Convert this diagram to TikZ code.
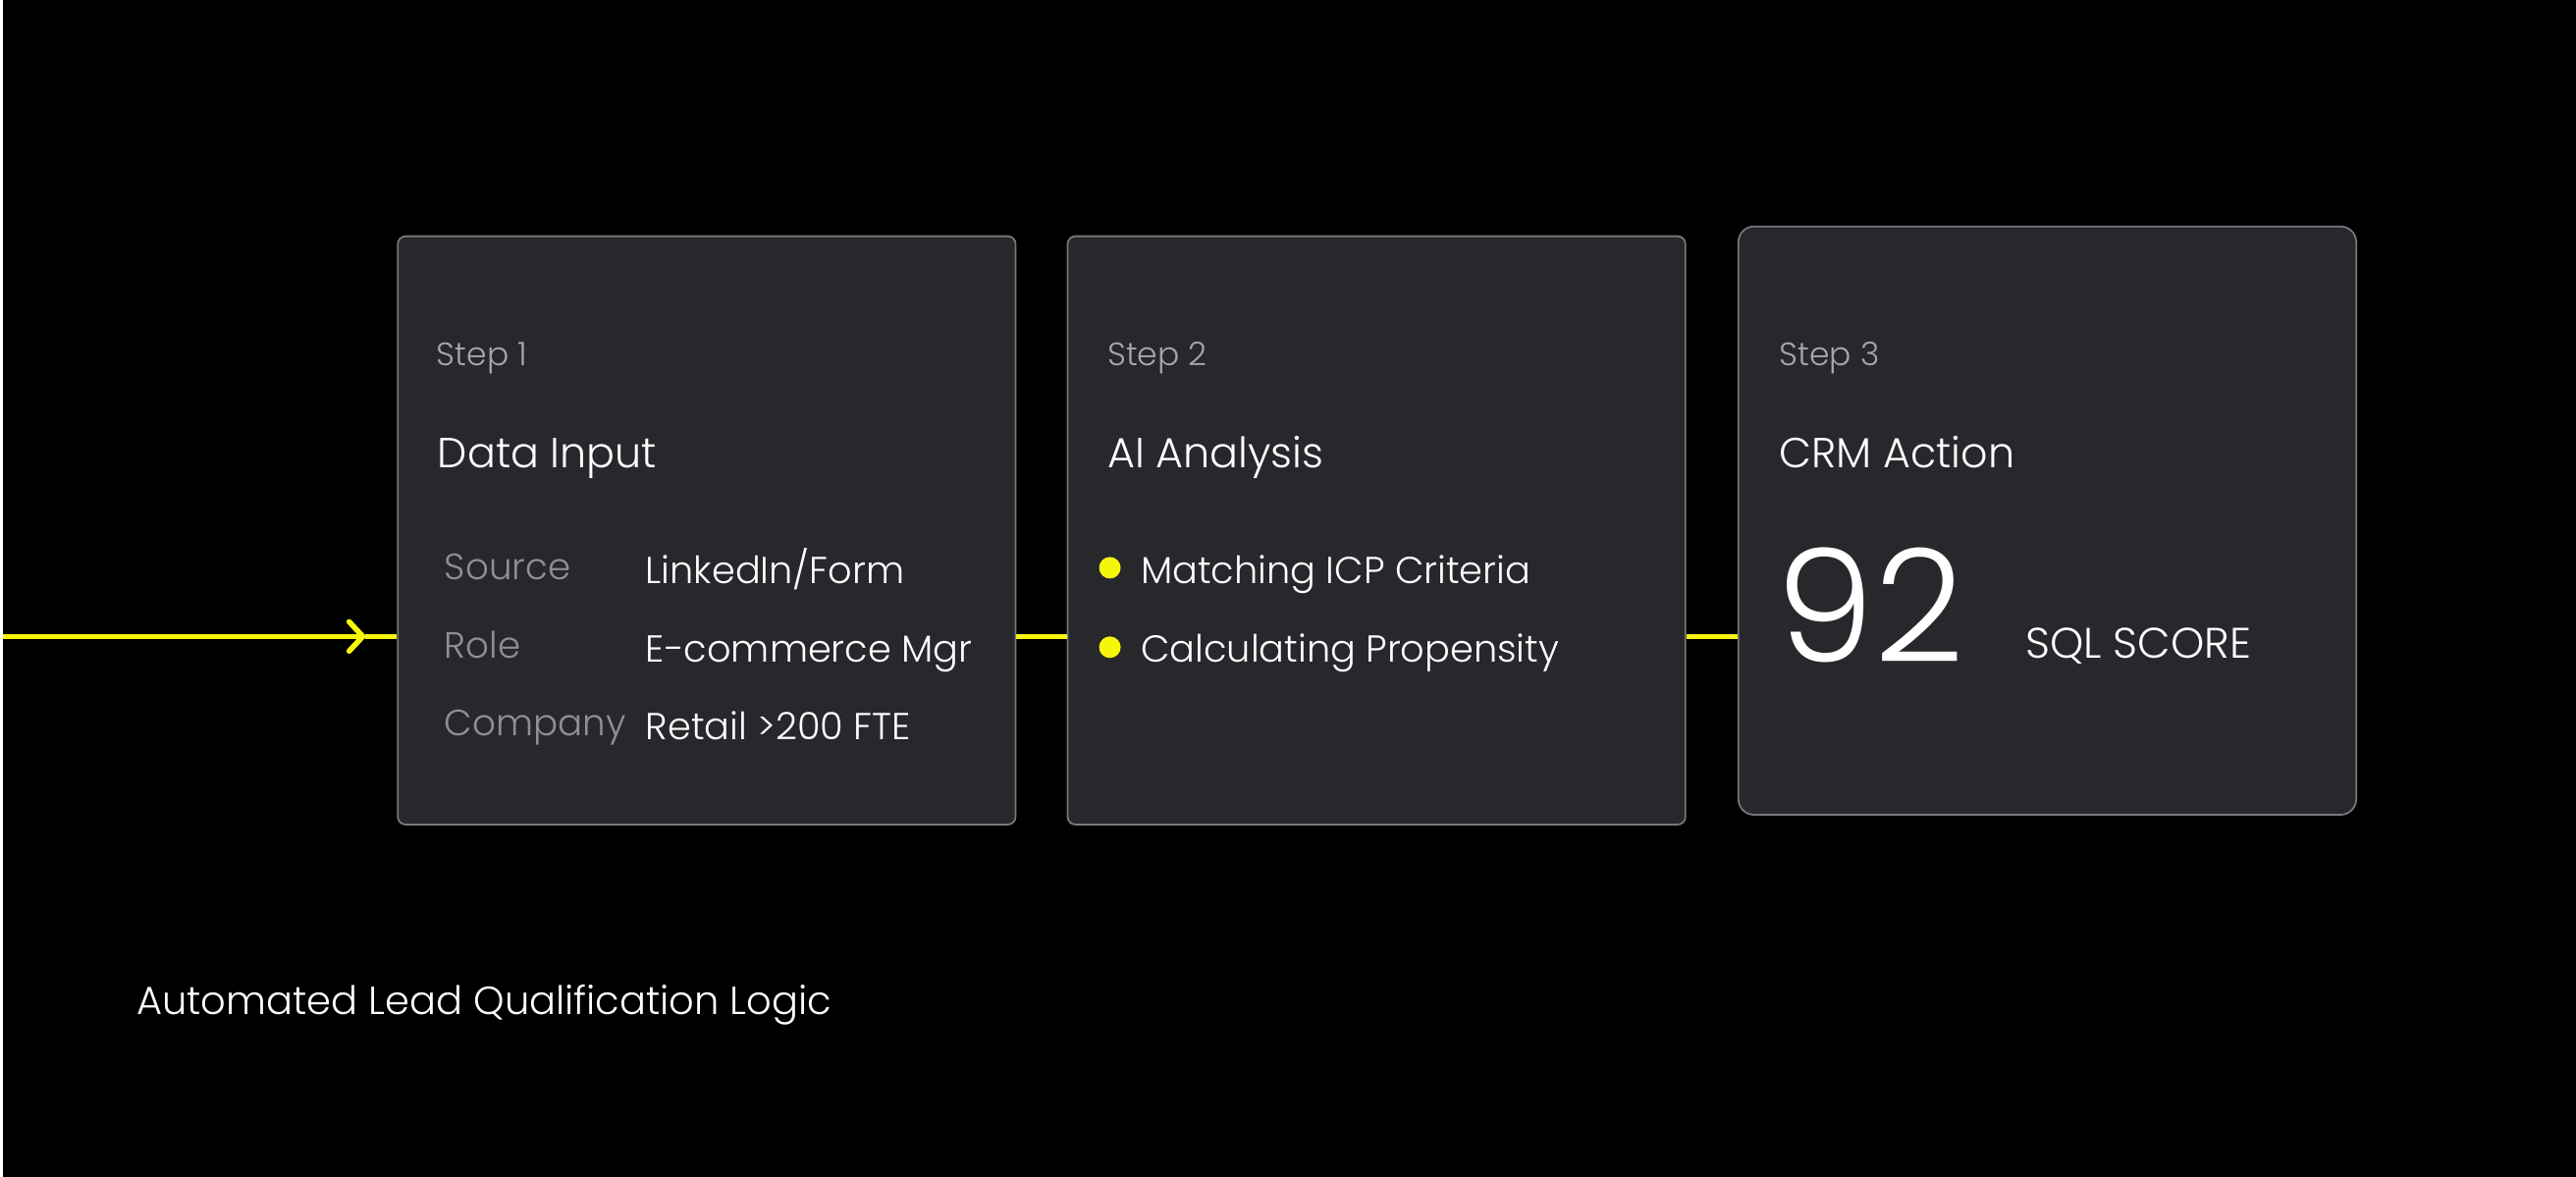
\documentclass[tikz,border=0pt]{standalone}
\usepackage{fontspec}
\setmainfont{Poppins Light}
\usetikzlibrary{arrows.meta}

\definecolor{bg}{HTML}{000000}
\definecolor{card}{HTML}{27282C}
\definecolor{cardline}{HTML}{77787C}
\definecolor{hilite}{HTML}{F6F60A}
\definecolor{steptext}{HTML}{A6A7AA}
\definecolor{keytext}{HTML}{8F9094}

\begin{document}
\begin{tikzpicture}[x=0.1mm,y=-0.1mm,
  card/.style={draw=cardline, fill=card, line width=0.5pt, rounded corners=0.8mm,
    anchor=north west, minimum width=63mm, minimum height=60mm, inner sep=0pt},
  flow/.style={draw=hilite, line width=0.55mm},
  txt/.style={anchor=base west, inner sep=0pt, text=white},
  steplabel/.style={txt, text=steptext, font=\fontsize{9.4}{11}\selectfont},
  cardtitle/.style={txt, font=\fontsize{12.2}{14}\selectfont},
  keylabel/.style={txt, text=keytext, font=\fontsize{10.6}{13}\selectfont},
  vallabel/.style={txt, font=\fontsize{10.9}{13}\selectfont},
  dot/.style={circle, fill=hilite, minimum size=2.2mm, inner sep=0pt}]

\fill [bg] (0,0) rectangle (2624,1200);

\coordinate (in) at (0,649);
\coordinate (tip) at (370,649);

\node [card] (box1) at (402,240) {};
\node [card] (box2) at (1085,240) {};
\node [card, rounded corners=1.6mm] (box3) at (1769,230) {};

\draw [flow, -{Straight Barb[length=1.4mm, width=3.0mm, round]}] (in) -- (tip);
\draw [flow] (tip) -- (box1.west |- in);
\draw [flow] (box1.east |- in) -- (box2.west |- in);
\draw [flow] (box2.east |- in) -- (box3.west |- in);

\node [steplabel] (step1) at (442,373) {Step 1};
\node [cardtitle] (title1) at (443,477) {Data Input};
\node [keylabel] (key1) at (450,591) {Source};
\node [keylabel] (key2) at (450,671) {Role};
\node [keylabel] (key3) at (450,750) {Company};
\node [vallabel] (val1) at (655,595) {LinkedIn/Form};
\node [vallabel] (val2) at (655,675) {E-commerce Mgr};
\node [vallabel] (val3) at (655,754) {Retail >200 FTE};

\node [steplabel] (step2) at (1126,373) {Step 2};
\node [cardtitle] (title2) at (1126,477) {AI Analysis};
\node [dot] (dot1) at (1129,579) {};
\node [dot] (dot2) at (1129,660) {};
\node [vallabel] (item1) at (1160,595) {Matching ICP Criteria};
\node [vallabel] (item2) at (1160,675) {Calculating Propensity};

\node [steplabel] (step3) at (1811,373) {Step 3};
\node [cardtitle] (title3) at (1811,477) {CRM Action};
\node [txt, font=\fontsize{45.5}{48}\selectfont] (score) at (1808,675) {92};
\node [vallabel, font=\fontsize{12.4}{14}\selectfont] (scorelabel) at (2062,671) {SQL SCORE};

\node [txt, font=\fontsize{11.4}{14}\selectfont] (caption) at (136,1035) {Automated Lead Qualification Logic};
\end{tikzpicture}
\end{document}
